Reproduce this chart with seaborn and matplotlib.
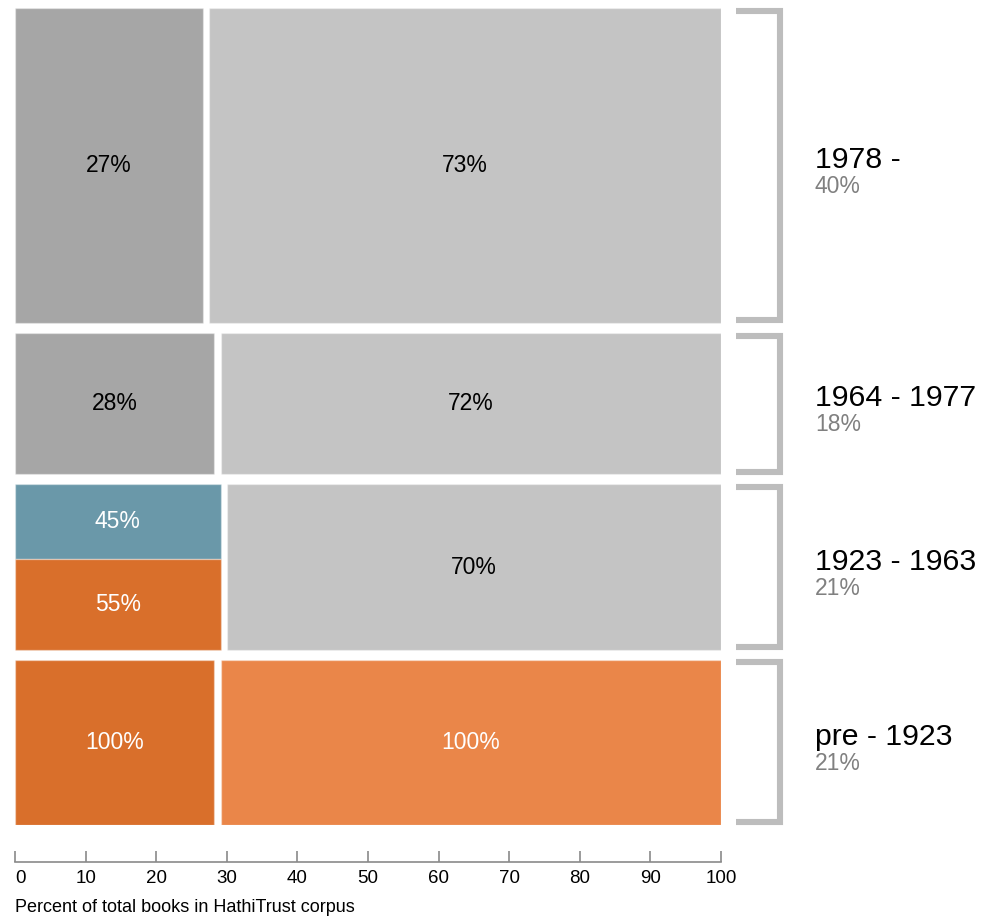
import pandas as pd
import numpy as np
import matplotlib.pyplot as plt
import seaborn as sns

# period rows, top to bottom, and their share of the whole corpus
periods = ["1978 -", "1964 - 1977", "1923 - 1963", "pre - 1923"]
period_share = [40, 18, 21, 21]
period_share_labels = ["40%", "18%", "21%", "21%"]

# where the left block ends inside each row (percent of total books)
left_split = [27.05, 28.7, 29.6, 28.7]

# cells: row, which side, fraction of the row height (top part first), label
cell_row = [0, 0, 1, 1, 2, 2, 2, 3, 3]
cell_side = ["left", "right", "left", "right", "left", "left", "right", "left", "right"]
cell_part = [100, 100, 100, 100, 45, 55, 100, 100, 100]
cell_label = ["27%", "73%", "28%", "72%", "45%", "55%", "70%", "100%", "100%"]
cell_color = ["#a6a6a6", "#c4c4c4", "#a6a6a6", "#c4c4c4",
              "#6a98a9", "#d96f2b", "#c4c4c4", "#d96f2b", "#ea8649"]
cell_text = ["black", "black", "black", "black",
             "white", "white", "black", "white", "white"]

sns.set_style("white")
plt.rcParams["font.family"] = ["Liberation Sans", "DejaVu Sans"]

fig = plt.figure(figsize=(9.84, 9.18), dpi=100)
ax = fig.add_axes([15 / 984, (918 - 825) / 918, 706 / 984, 817 / 918])

row_gap = 1.27   # gap between rows, in row-height units
col_gap = 0.93   # gap between left and right block, in x units
row_top = np.concatenate([[0], np.cumsum(period_share)[:-1]]) + np.arange(4) * row_gap

df = pd.DataFrame({"row": cell_row, "side": cell_side, "part": cell_part,
                   "label": cell_label, "color": cell_color, "text": cell_text})

offset = {}
for _, c in df.iterrows():
    r = c["row"]
    h = period_share[r] * c["part"] / 100
    key = (r, c["side"])
    y0 = row_top[r] + offset.get(key, 0)
    offset[key] = offset.get(key, 0) + h
    if c["side"] == "left":
        x0, w = 0, left_split[r] - col_gap / 2
    else:
        x0 = left_split[r] + col_gap / 2
        w = 100 - x0
    ax.barh(y0 + h / 2, w, height=h, left=x0, color=c["color"],
            edgecolor=(1, 1, 1, 0.35), linewidth=1)
    ax.text(x0 + w / 2, y0 + h / 2, c["label"], ha="center", va="center",
            fontsize=16.5, color=c["text"])

# brackets and period labels on the right
for r in range(4):
    top = row_top[r] + 0.35
    bot = row_top[r] + period_share[r] - 0.35
    ax.plot([102.1, 108.4, 108.4, 102.1], [top, top, bot, bot], color="#bdbdbd",
            lw=4.4, solid_joinstyle="miter", solid_capstyle="butt", clip_on=False)
    mid = row_top[r] + period_share[r] / 2
    ax.text(113.3, mid - 0.7, periods[r], ha="left", va="center",
            fontsize=21.8, color="black")
    ax.text(113.3, mid + 2.7, period_share_labels[r], ha="left", va="center",
            fontsize=16.5, color="#808080")

ax.set_xlim(0, 100)
ax.set_ylim(100 + 3 * row_gap, 0)
ax.set_yticks([])
ax.set_xticks(range(0, 101, 10))
ax.set_xticklabels([str(v) for v in range(0, 101, 10)])
sns.despine(ax=ax, left=True)
ax.spines["bottom"].set_position(("outward", 37 * 0.72))
ax.spines["bottom"].set_color("#8a8a8a")
ax.spines["bottom"].set_linewidth(1.2)
ax.tick_params(axis="x", bottom=True, direction="in", length=8, width=1.2,
               color="#8a8a8a", pad=6, labelsize=13.5, labelcolor="black")
ax.get_xticklabels()[0].set_ha("left")

fig.text(15 / 984, 1 - 907 / 918, "Percent of total books in HathiTrust corpus",
         ha="left", va="center", fontsize=13, color="black")

plt.savefig("out.png", dpi=100)
